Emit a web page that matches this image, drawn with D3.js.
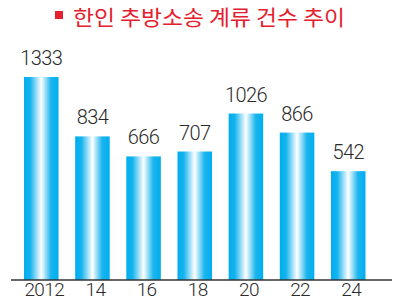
<!DOCTYPE html>
<html>
<head>
<meta charset="utf-8">
<script src="https://cdn.jsdelivr.net/npm/d3@7"></script>
<style>
	html, body { margin: 0; padding: 0; background: #fff; }
	svg { display: block; }
</style>
</head>
<body>
<div id="chart"></div>
<script>

// data
const years = ["2012", "14", "16", "18", "20", "22", "24"];
const counts = [1333, 834, 666, 707, 1026, 866, 542];
const title = "한인 추방소송 계류 건수 추이";

const width = 400;
const height = 300;

let svg = d3.select("#chart")
	.append("svg")
	.attr("width", width)
	.attr("height", height);

// bar gradient, cyan edges, white centre
let defs = svg.append("defs");
let grad = defs.append("linearGradient")
	.attr("id", "barGrad")
	.attr("x1", "0%").attr("x2", "100%")
	.attr("y1", "0%").attr("y2", "0%");
[
	[0, "#00aeef"],
	[0.18, "#14b3ee"],
	[0.5, "#ffffff"],
	[0.78, "#1bb5ee"],
	[1, "#00aeef"]
].forEach((s)=>{
	grad.append("stop")
		.attr("offset", s[0])
		.attr("stop-color", s[1]);
});

//scales
let x = d3.scaleBand()
	.domain(years)
	.range([24, 365.5])
	.paddingInner(0.325)
	.paddingOuter(0);

// the printed chart does not start at zero
let y = d3.scaleLinear()
	.domain([-372, 1400])
	.range([280, 69]);

//title
svg.append("rect")
	.attr("x", 55)
	.attr("y", 11)
	.attr("width", 8)
	.attr("height", 8)
	.attr("fill", "#e5202e");

svg.append("text")
	.attr("x", 73)
	.attr("y", 24.5)
	.attr("font-family", "'Noto Sans CJK KR', sans-serif")
	.attr("font-size", 21)
	.attr("font-weight", 400)
	.attr("fill", "#e5202e")
	.attr("textLength", 272)
	.attr("lengthAdjust", "spacingAndGlyphs")
	.text(title);

//bars
svg.selectAll(".bar")
	.data(counts)
	.enter().append("rect")
	.attr("class", "bar")
	.attr("x", (d, i)=>{return x(years[i]);})
	.attr("y", (d)=>{return y(d);})
	.attr("width", x.bandwidth())
	.attr("height", (d)=>{return y(-372) - y(d);})
	.attr("fill", "url(#barGrad)");

//value labels
svg.selectAll(".val")
	.data(counts)
	.enter().append("text")
	.attr("class", "val")
	.attr("x", (d, i)=>{return x(years[i]) + x.bandwidth()/2;})
	.attr("y", (d)=>{return y(d) - 12;})
	.attr("text-anchor", "middle")
	.attr("font-family", "Roboto, 'Liberation Sans', sans-serif")
	.attr("font-size", 20)
	.attr("font-weight", 300)
	.attr("letter-spacing", -0.6)
	.attr("fill", "#2b2b2b")
	.text((d)=>{return d;});

//axis line
svg.append("line")
	.attr("x1", 11)
	.attr("x2", 392)
	.attr("y1", 280)
	.attr("y2", 280)
	.attr("stroke", "#333")
	.attr("stroke-width", 1.5);

//year labels
svg.selectAll(".yr")
	.data(years)
	.enter().append("text")
	.attr("class", "yr")
	.attr("x", (d)=>{return x(d) + x.bandwidth()/2 + 3;})
	.attr("y", 296)
	.attr("text-anchor", "middle")
	.attr("font-family", "Roboto, 'Liberation Sans', sans-serif")
	.attr("font-size", 19)
	.attr("font-weight", 300)
	.attr("letter-spacing", -0.6)
	.attr("fill", "#2b2b2b")
	.text((d)=>{return d;});

</script>
</body>
</html>
